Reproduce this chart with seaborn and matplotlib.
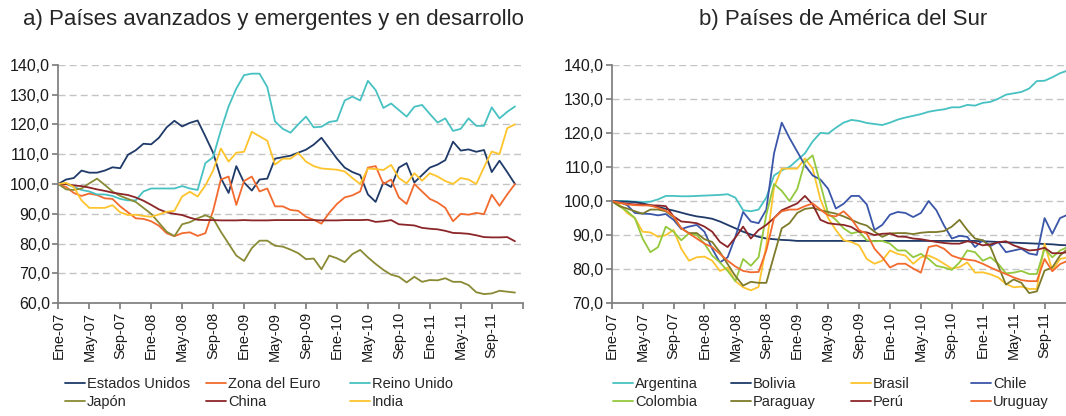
import pandas as pd
import seaborn as sns
import matplotlib.pyplot as plt

sns.set_theme(style='white')
plt.rcParams['font.family'] = ['Liberation Sans', 'DejaVu Sans']

meses = ['Ene', 'Feb', 'Mar', 'Abr', 'May', 'Jun', 'Jul', 'Ago', 'Sep', 'Oct', 'Nov', 'Dic']
fechas = [f'{m}-{a:02d}' for a in range(7, 12) for m in meses]   # Ene-07 .. Dic-11
etiquetas_x = fechas[::4] + ['']                                 # Ene-07, May-07, ... Sep-11

# a) Paises avanzados y emergentes y en desarrollo
estados_unidos = [100, 101.5, 102, 104.5, 103.8, 103.8, 104.5, 105.6, 105.3, 109.8,
                  111.3, 113.5, 113.3, 115.5, 119, 121.2, 119.3, 120.5, 121.3, 116,
                  110.5, 102, 97, 106, 100.5, 97.8, 101.5, 101.8, 108.5, 109,
                  109.5, 110.5, 111.5, 113.2, 115.5, 112, 108.5, 105.5, 104, 103,
                  96.5, 94, 100.5, 99, 105.5, 107, 100.5, 103, 105.5, 106.5,
                  108, 114.2, 111.2, 111.6, 110.8, 111.4, 104, 107.8, 104, 100]
zona_euro = [100, 99, 97, 96, 96.8, 96.3, 95.2, 95, 92.5, 90.5,
             88.5, 88.3, 87.5, 86, 83.5, 82.5, 83.5, 83.8, 82.6, 83.5,
             91, 101.5, 102.5, 93, 101, 102.5, 97.5, 98.5, 92.5, 92.5,
             91.3, 91, 89, 88, 86.7, 90.3, 93.3, 95.5, 96.2, 97.5,
             105.5, 106, 100, 101.5, 95.5, 93.3, 100, 97.5, 95, 93.8,
             92, 87.5, 90, 89.7, 90.3, 89.9, 96.4, 92.7, 96.5, 100]
reino_unido = [100, 100, 99, 98, 97.5, 96.5, 96.5, 96, 95, 94.5,
               94.5, 97.5, 98.5, 98.5, 98.5, 98.5, 99.3, 98.5, 98, 107,
               109, 118, 126, 132, 136.5, 137, 137, 132.5, 121, 118.5,
               117.2, 120, 122.6, 119, 119.2, 120.8, 121.2, 128, 129.3, 128,
               134.6, 131.5, 125.5, 127, 124.8, 122.6, 125.9, 126.5, 123.5, 120.6,
               122, 117.8, 118.5, 122, 119.5, 119.5, 125.7, 122, 124.2, 126]
japon = [100, 98.2, 98, 98.5, 100.2, 101.8, 99.7, 97.5, 96, 95,
         94, 92, 90, 87, 84, 82.5, 86.5, 87.2, 88.5, 89.5,
         88.5, 84, 80, 76, 74.2, 78.5, 81, 81, 79.3, 79,
         78, 76.8, 74.8, 75, 71.4, 76, 75.1, 73.8, 76.5, 77.9,
         75.4, 73.2, 71.2, 69.6, 68.9, 67, 68.9, 67.2, 67.8, 67.7,
         68.4, 67.2, 67.2, 66.1, 63.7, 63.1, 63.3, 64.2, 63.9, 63.6]
china = [100, 100, 99.5, 99.3, 98.8, 98.2, 97.7, 97.1, 96.7, 96.3,
         95.5, 94.4, 93, 91.5, 90.5, 90, 89.6, 88.7, 88, 87.9,
         87.9, 87.8, 87.8, 87.8, 87.9, 87.8, 87.8, 87.8, 87.9, 87.9,
         87.9, 87.9, 87.9, 87.9, 87.8, 87.8, 87.8, 87.9, 87.9, 87.9,
         88, 87.3, 87.5, 87.9, 86.5, 86.3, 86.1, 85.3, 85, 84.8,
         84.3, 83.6, 83.5, 83.3, 82.8, 82.2, 82.1, 82.1, 82.2, 80.8]
india = [100, 100.4, 99, 94.5, 92, 92, 92, 92.9, 90.5, 89.6,
         89.7, 89.3, 89, 89.8, 90.7, 91, 95.8, 97.4, 95.8, 99.5,
         104.5, 111.9, 107.5, 110.5, 110.8, 117.5, 116, 114.5, 106.5, 108.5,
         108.5, 110.4, 107.5, 106, 105.2, 105, 104.8, 104.2, 102, 100,
         105.2, 105, 104.7, 106.4, 102, 100.2, 103.6, 101.1, 103.6, 102.5,
         101, 100, 102, 101.5, 100, 105.6, 110.9, 110, 118.7, 120]

# b) Paises de America del Sur
argentina = [100, 100, 100, 99.8, 99.7, 99.8, 100.5, 101.5, 101.5, 101.4,
             101.4, 101.5, 101.6, 101.7, 101.8, 102, 101, 97.3, 97, 97.5,
             101, 107.5, 109, 110, 112, 114, 117.5, 120, 119.8, 121.5,
             123, 123.8, 123.5, 122.9, 122.6, 122.3, 123, 123.9, 124.5, 125,
             125.5, 126.2, 126.6, 126.9, 127.5, 127.5, 128.2, 128, 128.8, 129.1,
             130, 131.2, 131.6, 132, 133, 135.2, 135.3, 136.3, 137.5, 138.3]
bolivia = [100, 99.9, 99.8, 99.7, 99.3, 98.8, 98.3, 97.7, 97.2, 96.6,
           96, 95.5, 95.2, 94.8, 94, 93, 92, 91, 90.2, 89.5,
           89, 88.8, 88.6, 88.5, 88.3, 88.3, 88.3, 88.3, 88.3, 88.3,
           88.3, 88.3, 88.3, 88.3, 88.3, 88.3, 88.3, 88.3, 88.3, 88.3,
           88.3, 88.3, 88.3, 88.3, 88.3, 88.3, 88.3, 88.3, 88.2, 88.1,
           88, 87.9, 87.8, 87.7, 87.6, 87.5, 87.4, 87.3, 87.1, 87]
brasil = [100, 99, 96.5, 95, 91, 90.8, 89.5, 90, 91.5, 86,
          82.5, 83.5, 83.7, 82.5, 79.5, 80.5, 76.5, 74.7, 73.8, 74.8,
          87, 104, 109.5, 109.5, 109.5, 112.5, 109.5, 100.5, 95, 91.5,
          88.5, 88, 87, 83, 81.6, 82.5, 85.5, 84.5, 84, 81.6,
          83.5, 84, 83, 81.6, 80.2, 80.6, 82, 79, 79.1, 78.5,
          77.6, 75.7, 74.7, 74.9, 74.2, 74.2, 87.5, 79.6, 83, 83.5]
chile = [100, 99.7, 98.8, 96.5, 96.3, 96.2, 95.8, 96.2, 94.5, 91.8,
         92.5, 93, 91, 86, 82, 83.5, 89.5, 96.8, 94, 93.5,
         97.5, 114, 123, 118.5, 114.5, 110.5, 107.5, 106.3, 103.6, 97.8,
         99.2, 101.5, 101.5, 99, 91.5, 93, 96, 96.8, 96.5, 95.3,
         96.5, 100, 97.3, 92.8, 89, 89.8, 89.5, 86.5, 88.5, 86.8,
         88, 85, 85.5, 86, 84.6, 84.2, 95, 90.4, 95, 96]
colombia = [100, 98.5, 97, 95, 89, 85, 86.5, 92.5, 91, 88.5,
            90.5, 90, 87.5, 84, 82, 79.5, 76.5, 83, 81, 83.5,
            96, 105, 103, 100, 103.5, 111.5, 113.4, 105, 96.3, 94.5,
            92, 90.5, 91, 88.5, 88.2, 88.3, 87.5, 85.5, 85.5, 83.5,
            84.5, 83, 81, 80.5, 79.8, 82, 85.5, 85, 82.5, 83.5,
            81.6, 78.8, 79, 79.5, 78.6, 78.6, 86, 83.5, 85.5, 86.5]
paraguay = [100, 98.5, 97.8, 97, 96.3, 97.5, 97.5, 97, 95.3, 92,
            90.6, 90.6, 88.8, 88, 85, 81.5, 78, 75.2, 76.3, 76,
            76, 84, 92, 93.5, 96.5, 97.7, 98, 97.3, 96.8, 96.3,
            95.5, 94.5, 93.5, 92.8, 91, 89.5, 90.5, 90.6, 90.6, 90.3,
            90.7, 90.9, 90.9, 91.2, 92.5, 94.5, 91.5, 89, 88.5, 86.5,
            81, 75.5, 77, 76, 73, 73.5, 79.6, 80.5, 84, 86]
peru = [100, 99.5, 99.2, 99, 99, 98.7, 98.7, 98.5, 95.5, 94,
        93.8, 93.5, 92.5, 91, 88, 86.5, 89.3, 92.5, 89, 91.5,
        93, 95, 97.3, 98.3, 99.3, 101.5, 99, 94.5, 93.5, 93.2,
        93, 92.4, 91, 90.8, 90, 90.4, 90.5, 89.6, 89.5, 89,
        88.8, 88.4, 88, 87.7, 87.5, 87.5, 88.2, 87.8, 87, 87.3,
        87.9, 88.2, 87, 86.2, 85.5, 85.7, 86.3, 84.7, 84.7, 85]
uruguay = [100, 99.5, 99, 98.8, 98.7, 98.7, 98, 97.2, 95.5, 92,
           90.5, 89, 87.5, 86.5, 84.5, 82.5, 80.8, 79.5, 79.1, 79.2,
           85.5, 95, 97, 97.5, 97.5, 98.5, 99.3, 97.5, 95.8, 95.5,
           97, 94.8, 91.5, 90.4, 86, 83.5, 80.5, 81.6, 81.6, 80.2,
           79, 86.5, 87, 86, 84, 83.2, 82.8, 82.5, 81.6, 80.5,
           79.5, 78.6, 77.6, 76.8, 76.5, 76.5, 83, 79.4, 81.5, 82.5]

series_a = {'Estados Unidos': estados_unidos, 'Zona del Euro': zona_euro, 'Reino Unido': reino_unido,
            'Japón': japon, 'China': china, 'India': india}
series_b = {'Argentina': argentina, 'Bolivia': bolivia, 'Brasil': brasil, 'Chile': chile,
            'Colombia': colombia, 'Paraguay': paraguay, 'Perú': peru, 'Uruguay': uruguay}

colores_a = {'Estados Unidos': '#1F3A68', 'Zona del Euro': '#F26A2E', 'Reino Unido': '#48C1C2',
             'Japón': '#8A8A35', 'China': '#8B2528', 'India': '#FEC42D'}
colores_b = {'Argentina': '#48C1C2', 'Bolivia': '#1F3A68', 'Brasil': '#FEC42D', 'Chile': '#3A56A8',
             'Colombia': '#94C83D', 'Paraguay': '#7D7A2A', 'Perú': '#8B2528', 'Uruguay': '#F26A2E'}


def a_largo(series):
    df = pd.DataFrame(series)
    df['mes'] = range(len(fechas))
    return df.melt(id_vars='mes', var_name='pais', value_name='indice')


W, H = 1066, 416
fig = plt.figure(figsize=(W / 100, H / 100), dpi=100)


def panel(x0, x1, series, colores, y_min, titulo, titulo_x, col_x):
    ax = fig.add_axes([x0 / W, 1 - 303.3 / H, (x1 - x0) / W, (303.3 - 64.7) / H])
    sns.lineplot(data=a_largo(series), x='mes', y='indice', hue='pais', hue_order=list(series),
                 palette=colores, linewidth=1.3, ax=ax)
    handles, labels = ax.get_legend_handles_labels()
    ax.get_legend().remove()

    ax.set_xlim(0, 60)
    ax.set_ylim(y_min, 140)
    ax.set_xticks(range(0, 61, 4))
    ax.set_xticklabels(etiquetas_x, rotation=90, fontsize=10.5)
    yt = list(range(y_min, 141, 10))
    ax.set_yticks(yt)
    ax.set_yticklabels([f'{v},0' for v in yt], fontsize=11.5)
    ax.set_xlabel('')
    ax.set_ylabel('')
    ax.yaxis.grid(True, color='#C4C4C4', linestyle=(0, (5, 3)), linewidth=1)
    ax.set_axisbelow(True)
    sns.despine(ax=ax)
    for s in ['left', 'bottom']:
        ax.spines[s].set_color('#7F7F7F')
    ax.tick_params(axis='both', bottom=True, left=True, direction='out', length=4,
                   color='#7F7F7F', pad=2, labelcolor='#1A1A1A')

    fig.text(titulo_x / W, 1 - 20 / H, titulo, ha='center', va='center', fontsize=16)

    # one small legend per column, two rows each
    ncol = len(col_x)
    for i, x in enumerate(col_x):
        hs = [handles[i], handles[i + ncol]]
        ls = [labels[i], labels[i + ncol]]
        fig.legend(hs, ls, loc='upper left', bbox_to_anchor=(x / W, 1 - 377 / H), frameon=False,
                   fontsize=10.5, handlelength=1.4, handletextpad=0.1, labelspacing=0.3,
                   borderpad=0, borderaxespad=0)
    return ax


panel(58.3, 522.7, series_a, colores_a, 60, 'a) Países avanzados y emergentes y en desarrollo', 273,
      [65, 206, 350])
panel(611.7, 1075.5, series_b, colores_b, 70, 'b) Países de América del Sur', 843,
      [613, 731, 851, 971])

plt.savefig('out.png', dpi=100)
